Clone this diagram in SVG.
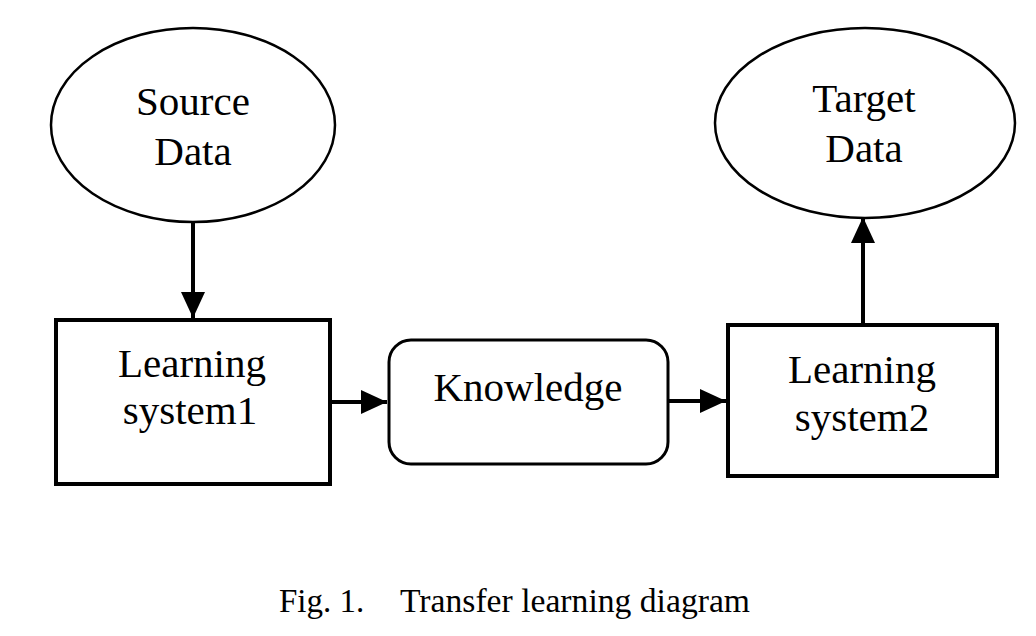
<svg xmlns="http://www.w3.org/2000/svg" width="1036" height="636" viewBox="0 0 1036 636">
<style>
.t{font-family:"Liberation Serif","Times New Roman",serif;font-size:41px;fill:#000;text-anchor:middle}
.cap{font-family:"Liberation Serif","Times New Roman",serif;font-size:33px;fill:#000}
.e{fill:#fff;stroke:#000;stroke-width:2.5}
.b{fill:#fff;stroke:#000;stroke-width:4}
.c{stroke:#000;stroke-width:4;fill:none}
</style>
<defs>
<marker id="ah" markerWidth="7" markerHeight="7" refX="6.5" refY="3" orient="auto" markerUnits="strokeWidth" viewBox="0 0 7 6">
<path d="M0,0 L6.5,3 L0,6 Z" fill="#000"/>
</marker>
</defs>
<rect width="1036" height="636" fill="#fff"/>
<g id="source">
<ellipse class="e" cx="193" cy="125" rx="142" ry="97"/>
<text class="t" x="193" y="115">Source</text>
<text class="t" x="193" y="165">Data</text>
</g>
<g id="target">
<ellipse class="e" cx="865" cy="123" rx="150" ry="95"/>
<text class="t" x="864" y="112">Target</text>
<text class="t" x="864" y="162">Data</text>
</g>
<g id="ls1">
<rect class="b" x="56" y="320" width="274" height="164"/>
<text class="t" x="192" y="377">Learning</text>
<text class="t" x="190" y="424">system1</text>
</g>
<g id="knowledge">
<rect x="389" y="340" width="279" height="124" rx="22" fill="#fff" stroke="#000" stroke-width="3"/>
<text class="t" x="528" y="401">Knowledge</text>
</g>
<g id="ls2">
<rect class="b" x="728" y="325" width="269" height="151"/>
<text class="t" x="862" y="383">Learning</text>
<text class="t" x="862" y="431">system2</text>
</g>
<g id="connectors">
<line class="c" x1="193" y1="222" x2="193" y2="318" marker-end="url(#ah)"/>
<line class="c" x1="330" y1="402" x2="387" y2="402" marker-end="url(#ah)"/>
<line class="c" x1="668" y1="401" x2="726" y2="401" marker-end="url(#ah)"/>
<line class="c" x1="863" y1="323" x2="863" y2="217" marker-end="url(#ah)"/>
</g>
<text class="cap" y="612"><tspan x="279">Fig. 1.</tspan><tspan x="400" textLength="350" lengthAdjust="spacingAndGlyphs">Transfer learning diagram</tspan></text>
</svg>
